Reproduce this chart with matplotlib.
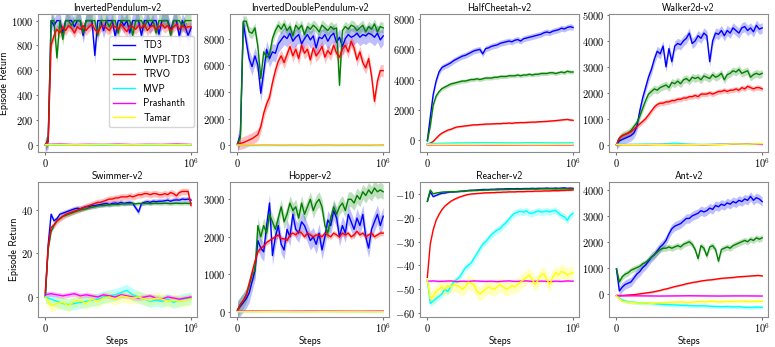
import numpy as np
import matplotlib
matplotlib.use("Agg")
import matplotlib.pyplot as plt
from matplotlib.ticker import FuncFormatter

plt.rcParams['mathtext.fontset'] = 'cm'

# ---- data, x runs 0..1e6 steps ----
names = ['TD3', 'MVPI-TD3', 'TRVO', 'MVP', 'Prashanth', 'Tamar']
colors = ['blue', 'green', 'red', 'cyan', 'magenta', 'yellow']

ip_td3 = [0, 30, 1000, 960, 1000, 1000, 900, 1000, 1000, 1000, 950, 1000, 1000, 880, 1000, 1000, 1000, 720, 1000, 1000,
          920, 1000, 1000, 1000, 870, 1000, 1000, 960, 1000, 900, 1000, 1000, 1000, 880, 1000, 1000, 950, 1000, 1000, 890,
          1000, 1000, 1000, 920, 1000, 1000, 870, 1000, 950, 880, 940]
ip_mvpi = [0, 50, 1000, 1000, 700, 1000, 850, 1000, 1000, 960, 1000, 1000, 1000, 900, 1000, 1000, 1000, 1000, 880, 1000,
           1000, 1000, 950, 1000, 1000, 900, 1000, 1000, 1000, 1000, 880, 1000, 1000, 1000, 950, 1000, 1000, 1000, 900, 1000,
           1000, 1000, 1000, 880, 1000, 1000, 1000, 950, 1000, 1000, 1000]
ip_trvo = [0, 30, 800, 880, 930, 900, 950, 920, 960, 940, 900, 950, 930, 960, 920, 950, 970, 930, 900, 950, 960, 940, 920,
           960, 950, 930, 970, 940, 910, 960, 950, 930, 960, 940, 970, 920, 950, 960, 930, 950, 970, 940, 960, 920, 950, 970,
           930, 960, 940, 950, 950]
ip_mvp = [0, 0, 1, 0, 0, 1, 0, 0, 0, 1, 0]
ip_prash = [5, 8, 4, 6, 5, 7, 4, 6, 5, 8, 5]
ip_tamar = [3, 4, 2, 3, 5, 3, 2, 4, 3, 3, 4]

idp_td3 = [100, 800, 9200, 7800, 6500, 5900, 6700, 6000, 3900, 5500, 7200, 6500, 7000, 6900, 7600, 7900, 8200, 8000, 8400,
           7800, 8100, 8300, 7600, 8000, 8300, 7900, 8200, 7300, 8100, 8000, 8300, 7800, 8200, 8400, 7700, 8100, 7400, 8000,
           8300, 8100, 8200, 8400, 8100, 8300, 8200, 8400, 8300, 8100, 8400, 7900, 8200]
idp_mvpi = [100, 600, 9300, 9300, 8500, 8400, 8800, 7400, 5000, 7000, 6600, 6800, 8000, 8600, 9000, 8700, 9100, 8600, 8900,
            8200, 9000, 8700, 9000, 8300, 8900, 8700, 9000, 8800, 8500, 9000, 8800, 8600, 8900, 8700, 8800, 4500, 8600, 8900,
            8700, 9000, 8900, 8600, 8800, 9000, 8500, 8900, 8700, 9100, 8500, 8900, 8800]
idp_trvo = [100, 150, 200, 300, 400, 500, 650, 800, 1400, 2400, 3100, 3600, 4700, 5600, 6300, 6700, 6200, 6800, 7400, 6700,
            7200, 6500, 7500, 6900, 7200, 6400, 7300, 6700, 7000, 7400, 6600, 7100, 6800, 7500, 6900, 6600, 7200, 7500, 7000,
            7800, 7300, 6400, 7000, 6200, 5800, 6500, 5200, 3300, 4800, 5600, 5600]
idp_mvp = [0, 0, 0, 0, 0, 0, 0, 0, 0, 0, 0]
idp_prash = [30, 20, 30, 25, 30, 20, 30, 25, 30, 20, 30]
idp_tamar = [20, 30, 20, 30, 25, 30, 20, 30, 25, 30, 20]

hc_td3 = [-50, 1500, 3000, 3900, 4500, 4800, 4900, 5000, 5100, 5250, 5350, 5450, 5550, 5600, 5700, 5800, 5900, 5950, 6000,
          5700, 6050, 6100, 6200, 6250, 6300, 6400, 6450, 6500, 6550, 6500, 6600, 6650, 6550, 6700, 6750, 6800, 6850, 6900,
          6950, 7000, 7100, 7150, 7100, 7200, 7250, 7300, 7400, 7350, 7450, 7500, 7450]
hc_mvpi = [-50, 900, 2300, 2900, 3200, 3400, 3500, 3600, 3700, 3750, 3800, 3850, 3900, 3900, 3950, 4000, 4000, 4050, 4000,
           4050, 4100, 4100, 4100, 4150, 4150, 4200, 4200, 4200, 4250, 4250, 4250, 4300, 4250, 4300, 4300, 4350, 4300, 4350,
           4350, 4400, 4400, 4400, 4450, 4450, 4400, 4450, 4500, 4450, 4550, 4500, 4500]
hc_trvo = [-280, -220, -100, 100, 300, 450, 550, 650, 700, 780, 850, 880, 900, 930, 950, 980, 1000, 1000, 1020, 1030, 1050,
           1050, 1060, 1070, 1080, 1080, 1100, 1100, 1120, 1100, 1130, 1140, 1150, 1150, 1160, 1170, 1180, 1180, 1200, 1210,
           1220, 1230, 1250, 1260, 1280, 1300, 1320, 1340, 1360, 1320, 1300]
hc_mvp = [-250, -220, -200, -190, -180, -190, -200, -180, -190, -200, -190]
hc_prash = [-330, -320, -330, -325, -330, -335, -330, -325, -330, -335, -330]
hc_tamar = [-300, -290, -300, -295, -290, -300, -295, -290, -300, -295, -290]

wk_td3 = [0, 150, 200, 250, 300, 350, 450, 700, 1300, 1800, 2200, 2600, 2900, 3300, 3600, 3500, 3800, 3000, 3700, 3200,
          3800, 3900, 3850, 4000, 4100, 4300, 3900, 4000, 4200, 4100, 4300, 4200, 3200, 4000, 4300, 4250, 4400, 4200, 4400,
          4300, 4500, 4400, 4300, 4500, 4550, 4400, 4500, 4350, 4600, 4450, 4500]
wk_mvpi = [0, 250, 350, 400, 450, 550, 700, 850, 1100, 1400, 1700, 1950, 2050, 2150, 2100, 2200, 2250, 2300, 2200, 2400,
           2350, 2450, 2350, 2500, 2550, 2450, 2600, 2550, 2600, 2500, 2650, 2600, 2550, 2700, 2600, 2650, 2750, 2500, 2700,
           2750, 2850, 2800, 2900, 2750, 2800, 2850, 2600, 2700, 2750, 2700, 2750]
wk_trvo = [0, 250, 350, 400, 450, 500, 600, 700, 800, 900, 1000, 1150, 1300, 1450, 1550, 1600, 1600, 1650, 1650, 1700,
           1700, 1750, 1750, 1800, 1800, 1850, 1850, 1900, 1850, 1950, 1950, 1950, 2000, 1950, 2000, 2050, 2050, 2100, 2050,
           2100, 2100, 2150, 2100, 2200, 2150, 2250, 2200, 2150, 2200, 2200, 2150]
wk_mvp = [20, 10, 30, 20, 60, 20, 10, 20, 30, 10, 20]
wk_prash = [0, 5, 0, 10, 0, 5, 0, 10, 20, 30, 10]
wk_tamar = [0, 0, 10, 0, 5, 0, 10, 0, 30, 20, 40]

sw_td3 = [0, 24, 38, 35, 36, 38, 38.5, 39, 39.5, 40, 40.5, 40.8, 40.5, 41, 41.5, 41.5, 42, 42, 42.3, 42.5, 42.8, 43, 42.5,
          43, 43.2, 43, 43.5, 43, 43.3, 43.5, 43, 41, 39, 43, 43.5, 43.8, 43.5, 44, 43.8, 44, 44, 44.2, 44.5, 44, 44.5, 44.6,
          44.5, 45, 44.8, 45, 44.5]
sw_mvpi = [0, 22, 30, 33, 35, 36, 37, 37.5, 38, 38.5, 39, 39.5, 40, 40.3, 40.5, 41, 41.2, 41.5, 41.8, 42, 42, 42.2, 42.3,
           42.5, 42.5, 42.5, 42.7, 42.8, 42.8, 42.8, 43, 42.8, 43, 42.9, 43, 43, 42.9, 43, 43.1, 43, 43, 43.1, 43, 42.9, 43,
           43.1, 43, 43, 43.1, 43, 43]
sw_trvo = [2, 23, 32, 33, 35, 36, 37, 38, 38.5, 39, 39.5, 40, 40.5, 41, 41.5, 42, 42.5, 43, 43.5, 43.5, 44, 44.5, 45, 45,
           45.5, 45.5, 46, 46, 46, 46.5, 46, 46.5, 47, 47, 47.5, 47.5, 47, 47.5, 47.5, 47, 47, 47.5, 47, 48, 47.5, 46.5, 48,
           48.5, 48.5, 48.5, 42]
sw_mvp = [0, -1, -2, -3, -3.5, -3, -2.5, -2, -1.5, -1, 0, 0.5, 1, 2, 3, 1, 0, -1, -2, -1.5, -2, -1, -2.5, -1.5, -1, -0.5]
sw_prash = [1, 1.5, 1, 0.5, 1, 1.5, 0.5, 1, 0.5, 0, 1, 0.5, 0, 1, 0.5, 0, -0.5, 0, 0.5, -0.5, -1, 0, -0.5, -1, -0.5, 0]
sw_tamar = [0, -4, -3, -2.5, -4, -2, -1.5, -3, -1, -2, -0.5, 0, -1, 0.5, 0, -0.5, 0, -1, -1.5, -0.5, -1, -2, -1.5, -2,
            -1.5, -1]

hop_td3 = [50, 150, 250, 350, 500, 800, 1100, 1900, 1700, 1600, 2300, 2900, 1500, 2000, 2300, 1800, 1650, 2200, 2000, 2600,
           2200, 2100, 2400, 2300, 2100, 1900, 2000, 1800, 2100, 1650, 2000, 2450, 2300, 2700, 2500, 2000, 2300, 2100, 2600,
           2400, 2200, 2500, 2300, 2600, 2000, 1700, 2200, 2400, 2600, 2300, 2550]
hop_mvpi = [50, 200, 300, 450, 700, 1000, 1100, 2300, 2000, 2300, 2100, 2600, 2400, 2200, 2500, 2800, 2400, 2600, 2900,
            2700, 2800, 2500, 2900, 2600, 2800, 3000, 2700, 2900, 3000, 2800, 2300, 2100, 2500, 2800, 2600, 2800, 2900, 2700,
            3000, 3000, 2900, 3100, 3000, 3200, 3100, 3250, 3150, 3300, 3200, 3250, 3200]
hop_trvo = [50, 200, 300, 450, 750, 1050, 1350, 1600, 1700, 1750, 1850, 1900, 1950, 2000, 2050, 1950, 1950, 1900, 2050,
            2100, 2050, 2150, 2100, 2000, 2100, 2050, 2000, 2050, 2050, 2000, 2100, 2050, 2000, 2100, 2050, 2000, 2100, 2050,
            2100, 2000, 2050, 2150, 2050, 2100, 2000, 2050, 2100, 2000, 2050, 2100, 2100]
hop_mvp = [10, 10, 12, 10, 8, 10, 12, 10, 10, 8, 10]
hop_prash = [20, 22, 20, 18, 20, 22, 20, 20, 18, 20, 22]
hop_tamar = [5, 5, 6, 5, 4, 5, 6, 5, 5, 4, 5]

re_td3 = [-13, -9, -11, -10.5, -10, -9.6, -9.5, -9.2, -9, -9, -8.9, -8.8, -8.7, -8.6, -8.4, -8.3, -8.3, -8.2, -8.1, -8,
          -8, -8, -7.9, -7.9, -7.8, -7.8, -7.8, -7.7, -7.7, -7.7, -7.7, -7.6, -7.7, -7.6, -7.6, -7.6, -7.5, -7.6, -7.5,
          -7.5, -7.5, -7.4, -7.5, -7.5, -7.4, -7.5, -7.4, -7.3, -7.5, -7.4, -7.5]
re_mvpi = [-13, -8.2, -9.8, -9.5, -9.3, -9.1, -9, -9, -8.9, -8.9, -8.9, -8.8, -8.7, -8.6, -8.5, -8.5, -8.4, -8.4, -8.3,
           -8.3, -8.2, -8.2, -8.1, -8.1, -8.1, -8, -8, -8, -8, -7.9, -7.9, -7.9, -7.9, -7.8, -7.8, -7.8, -7.8, -7.8, -7.8,
           -7.7, -7.7, -7.7, -7.7, -7.7, -7.8, -7.7, -7.7, -7.7, -7.7, -7.8, -7.7]
re_trvo = [-45, -31, -25, -21, -18.5, -16.5, -15, -14, -13, -12.3, -11.7, -11.2, -10.8, -10.4, -10.1, -9.9, -9.8, -9.7,
           -9.6, -9.5, -9.4, -9.4, -9.3, -9.3, -9.2, -9.2, -9.1, -9.1, -9, -9, -9, -8.9, -8.9, -8.9, -8.8, -8.8, -8.8,
           -8.7, -8.7, -8.7, -8.6, -8.6, -8.6, -8.5, -8.5, -8.5, -8.4, -8.4, -8.3, -8.3, -8.2]
re_mvp = [-46, -56, -55, -54, -53, -52, -50, -51, -49, -47, -46, -45, -43, -41, -40, -39, -37, -35, -33, -31, -30, -28.5,
          -27, -26, -25, -24.5, -23, -22, -20.5, -19, -18, -17.5, -17.2, -17.5, -17, -18, -18, -17.5, -17, -17.5, -17.3,
          -17, -17.5, -17, -16.8, -18, -19, -19.5, -21, -19, -18]
re_prash = [-46.6, -46.5, -46.7, -46.6, -46.5, -46.8, -46.6, -46.7, -46.5, -46.6, -46.7, -46.6, -46.8, -46.6, -46.5,
            -46.7, -46.6, -46.5, -46.7, -46.6, -46.6, -46.8, -46.6, -46.7, -46.5, -46.6]
re_tamar = [-46, -54, -53, -51, -50, -49, -50, -48.5, -49, -48, -48.3, -49, -50, -49, -47, -47.6, -48, -51, -52, -51, -50,
            -49, -49.7, -50, -49, -48, -49, -50, -49.5, -48.5, -49, -48, -47, -46, -45, -44, -46, -48, -46, -44, -43.5, -46,
            -48, -45, -43, -44, -42.5, -43, -44, -43.5, -43]

ant_td3 = [950, 100, 250, 350, 400, 450, 600, 750, 850, 1000, 1100, 1250, 1400, 1500, 1650, 1800, 1900, 2050, 2300, 2500,
           2600, 2650, 2700, 2800, 2900, 2900, 3000, 3050, 3100, 3200, 3150, 3200, 3300, 3250, 3400, 3350, 3450, 3400, 3500,
           3450, 3550, 3500, 3600, 3550, 3650, 3600, 3750, 3600, 3700, 3650, 3550]
ant_mvpi = [950, 450, 650, 750, 800, 900, 950, 1000, 1050, 1150, 1200, 1300, 1400, 1500, 1600, 1700, 1750, 1750, 1800,
            1750, 1800, 1850, 1800, 1900, 1950, 2000, 1900, 1700, 1350, 1850, 1750, 1450, 1800, 1850, 1700, 1250, 1700, 1750,
            1800, 1750, 1850, 1900, 1950, 2000, 2050, 2000, 2100, 2050, 2150, 2100, 2150]
ant_trvo = [-70, -75, -70, -60, -50, -40, -20, 0, 20, 40, 60, 90, 120, 160, 190, 230, 270, 300, 330, 370, 400, 430, 450,
            480, 500, 520, 530, 550, 570, 590, 600, 610, 620, 640, 650, 660, 670, 680, 690, 700, 680]
ant_mvp = [-90, -250, -320, -340, -360, -370, -380, -400, -420, -430, -440, -450, -460, -470, -480, -470, -490, -500, -510,
           -500, -520, -510, -530, -540, -520, -530]
ant_prash = [-90, -85, -90, -95, -90, -85, -90, -95, -90, -90, -95]
ant_tamar = [-90, -300, -330, -350, -370, -360, -380, -360, -350, -340, -330, -320, -340, -330, -310, -320, -300, -310,
             -320, -300, -310, -290, -300, -310, -300, -300]

envs = ['InvertedPendulum-v2', 'InvertedDoublePendulum-v2', 'HalfCheetah-v2', 'Walker2d-v2',
        'Swimmer-v2', 'Hopper-v2', 'Reacher-v2', 'Ant-v2']
curves = [
    [ip_td3, ip_mvpi, ip_trvo, ip_mvp, ip_prash, ip_tamar],
    [idp_td3, idp_mvpi, idp_trvo, idp_mvp, idp_prash, idp_tamar],
    [hc_td3, hc_mvpi, hc_trvo, hc_mvp, hc_prash, hc_tamar],
    [wk_td3, wk_mvpi, wk_trvo, wk_mvp, wk_prash, wk_tamar],
    [sw_td3, sw_mvpi, sw_trvo, sw_mvp, sw_prash, sw_tamar],
    [hop_td3, hop_mvpi, hop_trvo, hop_mvp, hop_prash, hop_tamar],
    [re_td3, re_mvpi, re_trvo, re_mvp, re_prash, re_tamar],
    [ant_td3, ant_mvpi, ant_trvo, ant_mvp, ant_prash, ant_tamar],
]
# half-width of the shaded band per series
bands = [
    [60, 50, 40, 2, 8, 3],
    [650, 400, 450, 20, 20, 20],
    [200, 130, 60, 30, 15, 15],
    [200, 150, 100, 15, 10, 10],
    [1.2, 0.8, 1.5, 2.8, 1.2, 2.8],
    [250, 200, 70, 5, 5, 5],
    [0.3, 0.3, 0.3, 1.5, 0.3, 3.0],
    [180, 120, 30, 70, 20, 60],
]
yticks = [
    [0, 200, 400, 600, 800, 1000],
    [0, 2000, 4000, 6000, 8000],
    [0, 2000, 4000, 6000, 8000],
    [0, 1000, 2000, 3000, 4000, 5000],
    [0, 20, 40],
    [0, 1000, 2000, 3000],
    [-60, -50, -40, -30, -20, -10],
    [0, 1000, 2000, 3000, 4000],
]
ylims = [(-56, 1054), (-500, 9850), (-800, 8350), (-280, 5040),
         (-9.2, 53), (-135, 3470), (-61.7, -4.7), (-905, 4320)]

fig = plt.figure(figsize=(7.75, 3.47), dpi=100)
lefts = [0.049, 0.297, 0.542, 0.786]
rows = [(0.562, 0.398), (0.0865, 0.39)]
fmt = FuncFormatter(lambda v, p: r'$%g$' % v)

for k in range(8):
    b, h = rows[k // 4]
    ax = fig.add_axes([lefts[k % 4], b, 0.205, h])
    for y, sd, c, lab in zip(curves[k], bands[k], colors, names):
        y = np.array(y, dtype=float)
        x = np.linspace(0, 1e6, len(y))
        ax.fill_between(x, y - sd, y + sd, color=c, alpha=0.25, linewidth=0)
        ax.plot(x, y, color=c, lw=1.0, label=lab)
    ax.set_xlim(-0.05e6, 1.04e6)
    ax.set_ylim(*ylims[k])
    ax.set_xticks([0, 1e6])
    ax.set_xticklabels([r'$0$', r'$10^6$'])
    ax.set_yticks(yticks[k])
    ax.yaxis.set_major_formatter(fmt)
    ax.tick_params(labelsize=7.5, color='0.45', length=1.8, width=0.8, pad=1.5)
    for s in ax.spines.values():
        s.set_color('0.55')
    ax.set_title(envs[k], fontsize=7.2, family='cmss10', pad=2)
    if k % 4 == 0:
        ax.set_ylabel('Episode Return', fontsize=7.2, family='cmss10', labelpad=1.5)
    if k >= 4:
        ax.set_xlabel('Steps', fontsize=7.2, family='cmss10', labelpad=0.5)
    if k == 0:
        ax.legend(loc='center right', bbox_to_anchor=(1.0, 0.51),
                  prop={'family': 'cmss10', 'size': 7.2}, handlelength=2.2,
                  labelspacing=0.45, borderaxespad=0.3)

fig.savefig('out.png', dpi=100)
